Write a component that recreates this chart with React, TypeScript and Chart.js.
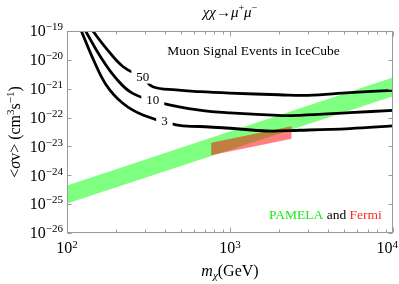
import React, { useEffect, useRef } from "react";
import { Chart, registerables } from "chart.js";
Chart.register(...registerables);

// IceCube muon signal event contours (x: m_chi in GeV, y: <sigma v> in cm^3/s)
const curve50X = [128.5, 144, 174, 220, 292, 336, 467, 649, 1000, 2000, 3000, 5430, 10000];
const curve50Y = [2.34e-19, 1.0e-19, 2.51e-20, 5.89e-21, 2.4e-21, 1.17e-21, 9.04e-22, 7.94e-22, 7.08e-22, 6.17e-22, 5.89e-22, 7.33e-22, 8.81e-22];

const curve10X = [119, 130, 158, 200, 253, 387, 649, 1000, 2113, 2686, 5430, 10000];
const curve10Y = [2.34e-19, 1.0e-19, 1.48e-20, 2.29e-21, 6.9e-22, 3.13e-22, 1.82e-22, 1.45e-22, 1.17e-22, 1.2e-22, 1.48e-22, 1.78e-22];

const curve3X = [114.6, 122.4, 144, 174, 220, 292, 467, 649, 1000, 1687, 2686, 5430, 10000];
const curve3Y = [2.34e-19, 1.0e-19, 1.13e-20, 1.35e-21, 3.13e-22, 1.23e-22, 5.53e-23, 4.9e-23, 4.27e-23, 3.43e-23, 3.63e-23, 4.17e-23, 5.13e-23];

// contour labels
const contourLabels = ["50", "10", "3"];
const contourLabelX = [292, 336, 396];
const contourLabelY = [2.63e-21, 4.07e-22, 7.59e-23];

// PAMELA band (green)
const greenX = [100, 10000];
const greenUpper = [4.47e-25, 2.45e-21];
const greenLower = [1.05e-25, 5.5e-22];

// Fermi band (red)
const redX = [766, 2390];
const redUpper = [1.35e-23, 5.01e-23];
const redLower = [4.9e-24, 1.86e-23];

// ticks
const xMajorTicks = [100, 1000, 10000];
const xTickExps = ["2", "3", "4"];
const xMinorTicks = [200, 300, 400, 500, 600, 700, 800, 900, 2000, 3000, 4000, 5000, 6000, 7000, 8000, 9000];
const yTicks = [1e-26, 1e-25, 1e-24, 1e-23, 1e-22, 1e-21, 1e-20, 1e-19];
const yTickExps = ["\u221226", "\u221225", "\u221224", "\u221223", "\u221222", "\u221221", "\u221220", "\u221219"];

const SERIF = "'Liberation Serif', 'Times New Roman', serif";

type Part = { t: string; f: string; dy?: number; c?: string };

function measureRich(ctx: CanvasRenderingContext2D, parts: Part[]) {
  return parts.map((p) => {
    ctx.font = p.f;
    return ctx.measureText(p.t).width;
  });
}

function drawRich(ctx: CanvasRenderingContext2D, parts: Part[], x: number, y: number, align: "left" | "center" | "right", maxRight?: number) {
  ctx.textAlign = "left";
  ctx.textBaseline = "alphabetic";
  const widths = measureRich(ctx, parts);
  const total = widths.reduce((a, b) => a + b, 0);
  let cx = align === "center" ? x - total / 2 : align === "right" ? x - total : x;
  if (maxRight !== undefined && cx + total > maxRight) cx = maxRight - total;
  parts.forEach((p, i) => {
    ctx.font = p.f;
    ctx.fillStyle = p.c || "#000";
    ctx.fillText(p.t, cx, y + (p.dy || 0));
    cx += widths[i];
  });
}

const pts = (xs: number[], ys: number[]) => xs.map((x, i) => ({ x, y: ys[i] }));

export default function App() {
  const ref = useRef<HTMLCanvasElement>(null);
  useEffect(() => {
    document.body.style.margin = "0";
    const canvas = ref.current!;
    const decor = {
      id: "decor",
      afterDatasetsDraw(chart: any) {
        const ctx = chart.ctx as CanvasRenderingContext2D;
        const xs = chart.scales.x;
        const ys = chart.scales.y;
        ctx.save();
        contourLabels.forEach((lab, i) => {
          const px = xs.getPixelForValue(contourLabelX[i]);
          const py = ys.getPixelForValue(contourLabelY[i]);
          ctx.font = `13px ${SERIF}`;
          const w = ctx.measureText(lab).width;
          ctx.fillStyle = "#fff";
          ctx.fillRect(px - w / 2 - 5, py - 7, w + 10, 14);
          ctx.fillStyle = "#000";
          ctx.textAlign = "center";
          ctx.textBaseline = "middle";
          ctx.fillText(lab, px, py + 1);
        });
        ctx.restore();
      },
      afterDraw(chart: any) {
        const ctx = chart.ctx as CanvasRenderingContext2D;
        const a = chart.chartArea;
        const xs = chart.scales.x;
        const ys = chart.scales.y;
        ctx.save();
        // frame
        ctx.strokeStyle = "#9a9a9a";
        ctx.lineWidth = 1;
        ctx.strokeRect(Math.round(a.left) + 0.5, Math.round(a.top) + 0.5, Math.round(a.right - a.left) - 1, Math.round(a.bottom - a.top) - 1);
        const top = Math.round(a.top) + 0.5;
        const bot = Math.round(a.bottom) - 0.5;
        const lft = Math.round(a.left) + 0.5;
        const rgt = Math.round(a.right) - 0.5;
        ctx.beginPath();
        const xTick = (v: number, len: number) => {
          const p = Math.round(xs.getPixelForValue(v)) + 0.5;
          ctx.moveTo(p, bot);
          ctx.lineTo(p, bot - len);
          ctx.moveTo(p, top);
          ctx.lineTo(p, top + len);
        };
        xMajorTicks.forEach((v) => xTick(v, 5));
        xMinorTicks.forEach((v) => xTick(v, 3));
        yTicks.forEach((v) => {
          const p = Math.round(ys.getPixelForValue(v)) + 0.5;
          ctx.moveTo(lft, p);
          ctx.lineTo(lft + 4, p);
          ctx.moveTo(rgt, p);
          ctx.lineTo(rgt - 4, p);
        });
        ctx.stroke();

        // y tick labels
        yTicks.forEach((v, i) => {
          const p = ys.getPixelForValue(v);
          drawRich(ctx, [
            { t: "10", f: `16px ${SERIF}` },
            { t: yTickExps[i], f: `11px ${SERIF}`, dy: -6 },
          ], 63, p + 5.3, "right");
        });
        // x tick labels
        xMajorTicks.forEach((v, i) => {
          const p = xs.getPixelForValue(v);
          drawRich(ctx, [
            { t: "10", f: `16px ${SERIF}` },
            { t: xTickExps[i], f: `11px ${SERIF}`, dy: -5 },
          ], p, 252.5, "center", 398);
        });

        // x axis title
        drawRich(ctx, [
          { t: "m", f: `italic 16px ${SERIF}` },
          { t: "\u03c7", f: `italic 11px ${SERIF}`, dy: 3 },
          { t: "(GeV)", f: `16px ${SERIF}` },
        ], (a.left + a.right) / 2, 276, "center");

        // y axis title
        ctx.save();
        ctx.translate(20, (a.top + a.bottom) / 2);
        ctx.rotate(-Math.PI / 2);
        drawRich(ctx, [
          { t: "<", f: `16px ${SERIF}` },
          { t: "\u03c3", f: `italic 16px ${SERIF}` },
          { t: "v> (cm", f: `16px ${SERIF}` },
          { t: "3", f: `11px ${SERIF}`, dy: -6 },
          { t: "s", f: `16px ${SERIF}` },
          { t: "\u22121", f: `11px ${SERIF}`, dy: -6 },
          { t: ")", f: `16px ${SERIF}` },
        ], 0, 0, "center");
        ctx.restore();

        // title
        drawRich(ctx, [
          { t: "\u03c7\u03c7\u2192\u03bc", f: `italic 15px ${SERIF}` },
          { t: "+", f: `10px ${SERIF}`, dy: -6 },
          { t: "\u03bc", f: `italic 15px ${SERIF}` },
          { t: "\u2212", f: `10px ${SERIF}`, dy: -6 },
        ], (a.left + a.right) / 2, 17, "center");

        // annotations
        drawRich(ctx, [{ t: "Muon Signal Events in IceCube", f: `13.5px ${SERIF}` }], 253.5, 55, "center");
        drawRich(ctx, [
          { t: "PAMELA", f: `13.5px ${SERIF}`, c: "rgb(20,235,20)" },
          { t: " and ", f: `13.5px ${SERIF}`, c: "#000" },
          { t: "Fermi", f: `13.5px ${SERIF}`, c: "rgb(255,40,40)" },
        ], 269, 219, "left");
        ctx.restore();
      },
    };

    const curve = (data: any) => ({
      data,
      borderColor: "#000",
      borderWidth: 2.8,
      pointRadius: 0,
      tension: 0.4,
      fill: false,
      order: 0,
      clip: 0,
    });
    const band = (data: any, fill: any, color: string, order: number) => ({
      data,
      borderColor: "transparent",
      borderWidth: 0,
      pointRadius: 0,
      tension: 0,
      fill,
      backgroundColor: color,
      order,
      clip: 0,
    });

    const chart = new Chart(canvas, {
      type: "line",
      data: {
        datasets: [
          curve(pts(curve50X, curve50Y)),
          curve(pts(curve10X, curve10Y)),
          curve(pts(curve3X, curve3Y)),
          band(pts(redX, redUpper), 4, "rgba(255,0,0,0.5)", 1),
          band(pts(redX, redLower), false, "rgba(255,0,0,0.5)", 1),
          band(pts(greenX, greenUpper), 6, "rgba(0,255,0,0.5)", 2),
          band(pts(greenX, greenLower), false, "rgba(0,255,0,0.5)", 2),
        ] as any,
      },
      options: {
        animation: false,
        responsive: false,
        events: [],
        layout: { padding: { left: 67, right: 6, top: 31, bottom: 51 } },
        plugins: { legend: { display: false }, tooltip: { enabled: false } },
        scales: {
          x: { type: "logarithmic", min: 100, max: 10000, display: false },
          y: { type: "logarithmic", min: 1e-26, max: 1e-19, display: false },
        },
      },
      plugins: [decor],
    });
    return () => chart.destroy();
  }, []);
  return (
    <div style={{ width: 399, height: 284 }}>
      <canvas ref={ref} width={399} height={284} style={{ display: "block" }} />
    </div>
  );
}
